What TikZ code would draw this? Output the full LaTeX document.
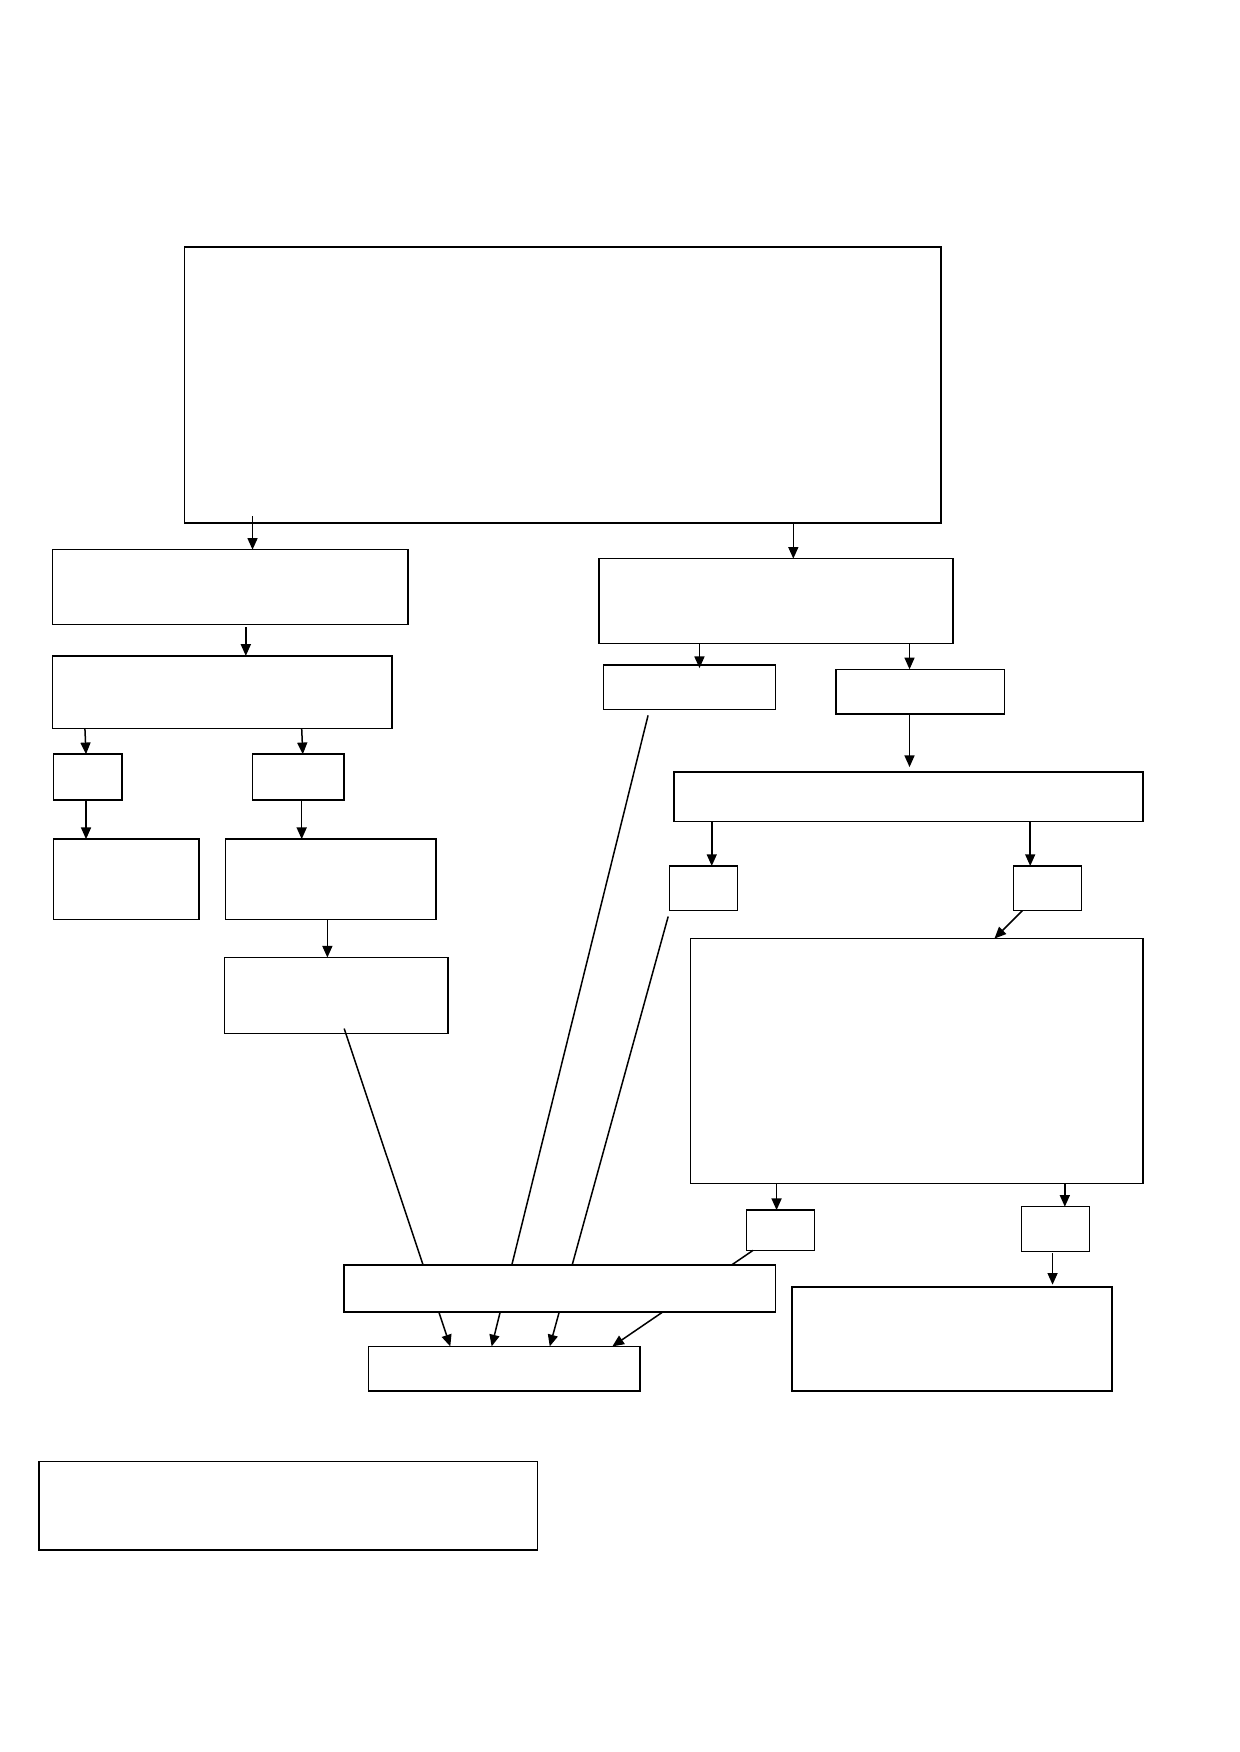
\documentclass[tikz,border=0pt]{standalone}
\usetikzlibrary{fit,arrows.meta}
\begin{document}
\begin{tikzpicture}[x=0.67pt,y=-0.67pt,
  box/.style={draw=black, fill=white, line width=0.9pt, inner sep=0pt, outer sep=0pt},
  arr/.style={line width=0.9pt, -{Triangle[length=7pt,width=6pt]}},
  ln/.style={line width=0.9pt}]
\path[use as bounding box, fill=white] (0,0) rectangle (1109,1568);
% boxes
\node[box, fit={(165,221) (842,468)}] (A) {};
\node[box, fit={(47,492) (365,559)}] (B) {};
\node[box, fit={(47,587) (351,652)}] (D) {};
\node[box, fit={(48,675) (109,716)}] (E) {};
\node[box, fit={(226,675) (308,716)}] (F) {};
\node[box, fit={(48,751) (178,823)}] (G) {};
\node[box, fit={(202,751) (390,823)}] (H) {};
\node[box, fit={(201,857) (401,925)}] (I) {};
\node[box, fit={(536,500) (853,576)}] (C) {};
\node[box, fit={(540,595) (694,635)}] (J) {};
\node[box, fit={(748,599) (899,639)}] (K) {};
\node[box, fit={(603,691) (1023,735)}] (L) {};
\node[box, fit={(599,775) (660,815)}] (M) {};
\node[box, fit={(907,775) (968,815)}] (N) {};
\node[box, fit={(618,840) (1023,1059)}] (O) {};
\node[box, fit={(668,1083) (729,1119)}] (P) {};
\node[box, fit={(914,1080) (975,1120)}] (Q) {};
\node[box, fit={(709,1152) (995,1245)}] (R) {};
\node[box, fit={(330,1205) (573,1245)}] (T) {};
\node[box, fit={(35,1308) (481,1387)}] (U) {};
% vertical arrows
\draw[arr] ([yshift=4pt]A.south -| 226,0) -- (B.north -| 226,0);
\draw[arr] (A.south -| 710,0) -- (C.north -| 710,0);
\draw[arr] ([yshift=-1.5pt]B.south -| 220,0) -- (D.north -| 220,0);
\draw[arr] (D.south -| 76,0) -- (E.north -| 77,0);
\draw[arr] (D.south -| 270,0) -- (F.north -| 271,0);
\draw[arr] (E.south -| 77,0) -- (G.north -| 77,0);
\draw[arr] (F.south -| 270,0) -- (H.north -| 270,0);
\draw[arr] (H.south -| 293,0) -- (I.north -| 293,0);
\draw[arr] (C.south -| 626,0) -- ([yshift=-2pt]J.north -| 626,0);
\draw[arr] (C.south -| 814,0) -- (K.north -| 814,0);
\draw[arr] (K.south -| 814,0) -- ([yshift=3pt]L.north -| 814,0);
\draw[arr] (L.south -| 637,0) -- (M.north -| 637,0);
\draw[arr] (L.south -| 922,0) -- (N.north -| 922,0);
\draw[arr] (N.south -| 915,0) -- (O.north -| 890,0);
\draw[arr] (O.south -| 695,0) -- (P.north -| 695,0);
\draw[arr] (O.south -| 953,0) -- (Q.north -| 953,0);
\draw[arr] ([yshift=-1pt]Q.south -| 942,0) -- ([yshift=1.5pt]R.north -| 942,0);
% long lines into T (passing behind S)
\draw[arr] ([yshift=3pt]I.south -| 308,0) -- (T.north -| 403,0);
\draw[arr] ([yshift=-3.5pt]J.south -| 580,0) -- (T.north -| 440,0);
\draw[arr] ([yshift=-3.5pt]M.south -| 598,0) -- (T.north -| 492,0);
\draw[arr] (P.south -| 674,0) -- (T.north -| 548,0);
% box S on top
\node[box, fit={(308,1132) (694,1174)}] (S) {};
\end{tikzpicture}
\end{document}
